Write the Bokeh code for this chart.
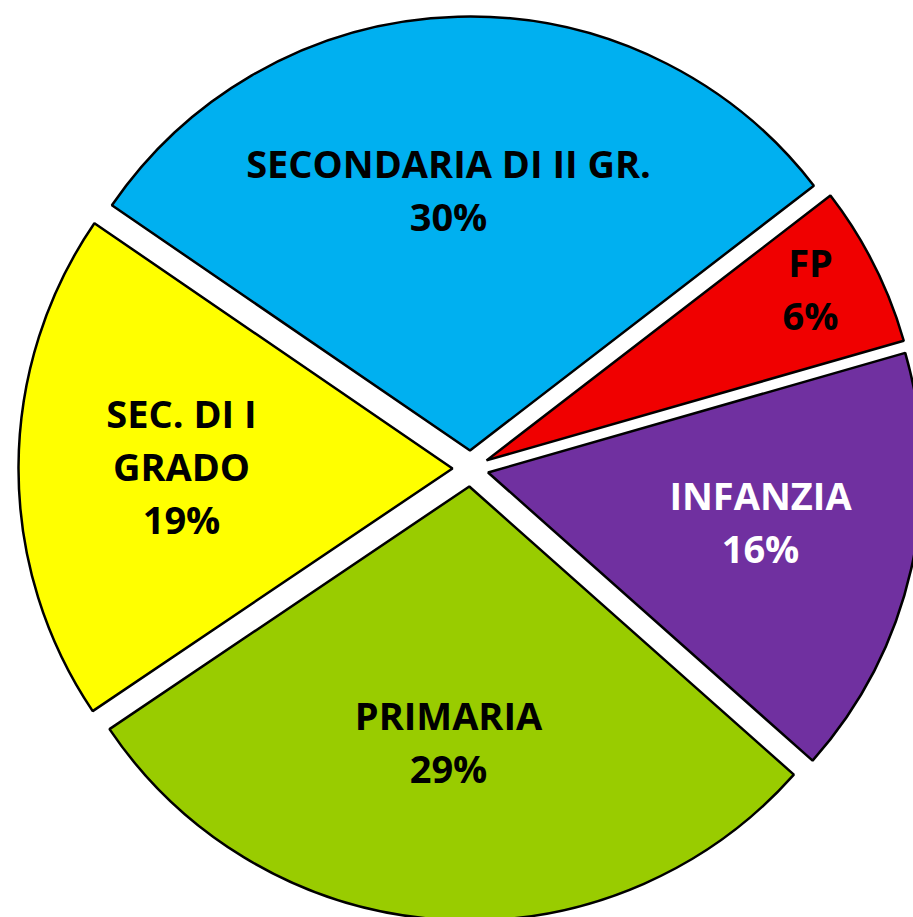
import math
from bokeh.plotting import figure
from bokeh.models import Range1d, ColumnDataSource
from bokeh.core.properties import value
from bokeh.embed import file_html
from bokeh.resources import INLINE

# ---- data ----
categories = ["FP", "INFANZIA", "PRIMARIA", "SEC. DI I\nGRADO", "SECONDARIA DI II GR."]
percents = [6, 16, 29, 19, 30]

# ---- styles / layout ----
colors = ["#F00000", "#7030A0", "#99CC00", "#FFFF00", "#00B0F0"]
text_colors = ["black", "white", "black", "black", "black"]
label_dx = [340, 290, -22, -289, -22]     # label block centre offset from pie centre (px)
label_dy = [179, -54, -274, 1, 278]       # (px, up positive)
start_deg = 37.6                          # first slice starts here, clockwise
CX, CY = 470, 468                         # pie centre in picture px (y down)
R = 434
EXPLODE = 18
FONT_PX = 38
CAP = 27
PITCH = 53
TEXT_FIX = 15                             # renderer baseline correction (px)

W, H = 913, 917
p = figure(width=W, height=H, output_backend="svg", toolbar_location=None,
           x_range=Range1d(0, W), y_range=Range1d(-H, 0),
           min_border=0, min_border_left=0, min_border_right=0,
           min_border_top=0, min_border_bottom=0)
p.axis.visible = False
p.xgrid.visible = False
p.ygrid.visible = False
p.outline_line_color = None
p.background_fill_color = "white"
p.border_fill_color = "white"

total = sum(percents)
xs, ys, sa, ea = [], [], [], []
tx, ty, tt, tc = [], [], [], []
a = math.radians(start_deg)
for cat, v, ldx, ldy, col in zip(categories, percents, label_dx, label_dy, text_colors):
    span = 2 * math.pi * v / total
    a_end = a - span
    mid = (a + a_end) / 2
    xs.append(CX + EXPLODE * math.cos(mid))
    ys.append(-CY + EXPLODE * math.sin(mid))
    sa.append(a_end)
    ea.append(a)
    # label block
    lines = cat.split("\n") + [f"{v}%"]
    bx = CX + ldx
    by = CY - ldy                         # picture y (down)
    block_h = CAP + (len(lines) - 1) * PITCH
    first_base = by - block_h / 2 + CAP - TEXT_FIX
    for i, ln in enumerate(lines):
        tx.append(bx)
        ty.append(-(first_base + i * PITCH))
        tt.append(ln)
        tc.append(col)
    a = a_end

src = ColumnDataSource(dict(x=xs, y=ys, s=sa, e=ea, c=colors))
p.wedge(x="x", y="y", radius=R, start_angle="s", end_angle="e",
        direction="anticlock", fill_color="c", line_color="black",
        line_width=2.5, source=src)

tsrc = ColumnDataSource(dict(x=tx, y=ty, t=tt, c=tc))
p.text(x="x", y="y", text="t", text_color="c", source=tsrc,
       text_font=value("Open Sans"), text_font_style="bold",
       text_font_size=f"{FONT_PX}px", text_align="center",
       text_baseline="alphabetic")

open("out.html", "w").write(file_html(p, INLINE))
